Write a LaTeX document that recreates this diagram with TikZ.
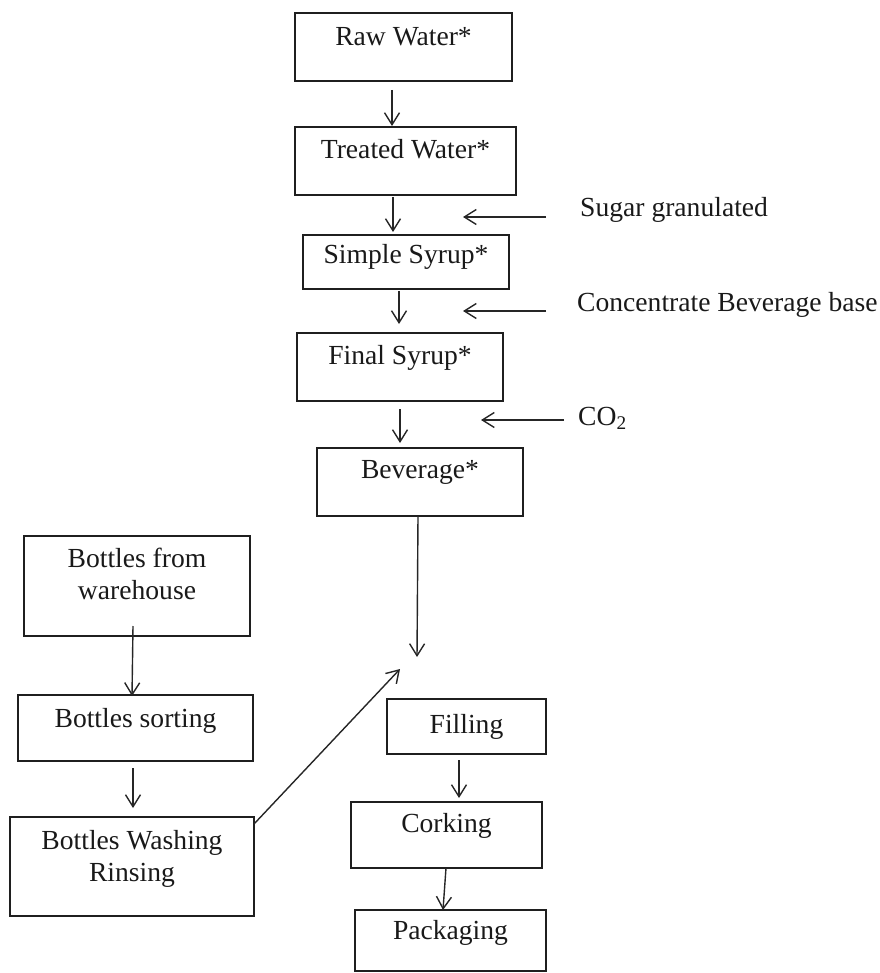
\documentclass[tikz,border=0pt]{standalone}
\usepackage{fontspec}
\setmainfont{Liberation Serif}
\usetikzlibrary{arrows.meta}
\begin{document}
\begin{tikzpicture}[x=1pt,y=-1pt,
  box/.style={draw=black!88, line width=1.6pt, inner sep=0pt, rectangle},
  lbl/.style={inner sep=0pt, anchor=base, font=\fontsize{27.6}{33}\selectfont, text=black!90},
  side/.style={inner sep=0pt, anchor=base west, font=\fontsize{27.6}{33}\selectfont, text=black!90},
  flow/.style={draw=black!85, line width=1.4pt, -{Straight Barb[length=12pt,width=15pt,line width=1.4pt]}}]
\useasboundingbox (0,0) rectangle (879,973);
% boxes
\node[box, minimum width=217pt, minimum height=68pt] (raw) at (403.5,47) {};
\node[lbl] (rawt) at (403.5,46) {Raw Water*};
\node[box, minimum width=221pt, minimum height=68pt] (treat) at (405.5,161) {};
\node[lbl] (treatt) at (405.5,159) {Treated Water*};
\node[box, minimum width=206pt, minimum height=54pt] (simple) at (406,262) {};
\node[lbl] (simplet) at (406,264) {Simple Syrup*};
\node[box, minimum width=206pt, minimum height=68pt] (final) at (400,367) {};
\node[lbl] (finalt) at (400,364) {Final Syrup*};
\node[box, minimum width=206pt, minimum height=68pt] (bev) at (420,482) {};
\node[lbl] (bevt) at (420,478) {Beverage*};
\node[box, minimum width=226pt, minimum height=100pt] (ware) at (137,586) {};
\node[lbl] (waret1) at (137,567) {Bottles from};
\node[lbl] (waret2) at (137,599) {warehouse};
\node[box, minimum width=235pt, minimum height=66pt] (sort) at (135.5,728) {};
\node[lbl] (sortt) at (135.5,727) {Bottles sorting};
\node[box, minimum width=244pt, minimum height=99pt] (wash) at (132,866.5) {};
\node[lbl] (washt1) at (132,849) {Bottles Washing};
\node[lbl] (washt2) at (132,881) {Rinsing};
\node[box, minimum width=159pt, minimum height=55pt] (fill) at (466.5,726.5) {};
\node[lbl] (fillt) at (466.5,733) {Filling};
\node[box, minimum width=191pt, minimum height=66pt] (cork) at (446.5,835) {};
\node[lbl] (corkt) at (446.5,832) {Corking};
\node[box, minimum width=191pt, minimum height=61pt] (pack) at (450.5,940.5) {};
\node[lbl] (packt) at (450.5,939) {Packaging};
% side inputs
\node[side] (sugar) at (580,217) {Sugar granulated};
\node[side] (conc) at (577,311) {Concentrate Beverage base};
\node[side] (co2) at (578,425) {CO\textsubscript{2}};
% arrow end points
\coordinate (a1s) at (392,90);   \coordinate (a1e) at (392,126);
\coordinate (a2s) at (393,197);  \coordinate (a2e) at (393,232);
\coordinate (a3s) at (399,291);  \coordinate (a3e) at (399,324);
\coordinate (a4s) at (400,409);  \coordinate (a4e) at (400,443);
\coordinate (sgs) at (546,217);  \coordinate (sge) at (463,217);
\coordinate (ccs) at (546,311);  \coordinate (cce) at (463,311);
\coordinate (cos) at (564,420);  \coordinate (coe) at (481,420);
\coordinate (bvs) at (418,516);  \coordinate (bve) at (417,657);
\coordinate (dgs) at (254,824);  \coordinate (dge) at (400,669);
\coordinate (w1s) at (133,626);  \coordinate (w1e) at (132,696);
\coordinate (w2s) at (133,768);  \coordinate (w2e) at (133,808);
\coordinate (f1s) at (459,760);  \coordinate (f1e) at (459,798);
\coordinate (c1s) at (446,868);  \coordinate (c1e) at (443,910);
% connectors
\draw[flow] (a1s) -- (a1e);
\draw[flow] (a2s) -- (a2e);
\draw[flow] (a3s) -- (a3e);
\draw[flow] (a4s) -- (a4e);
\draw[flow] (sgs) -- (sge);
\draw[flow] (ccs) -- (cce);
\draw[flow] (cos) -- (coe);
\draw[flow] (bvs) -- (bve);
\draw[flow] (dgs) -- (dge);
\draw[flow] (w1s) -- (w1e);
\draw[flow] (w2s) -- (w2e);
\draw[flow] (f1s) -- (f1e);
\draw[flow] (c1s) -- (c1e);
\end{tikzpicture}
\end{document}
